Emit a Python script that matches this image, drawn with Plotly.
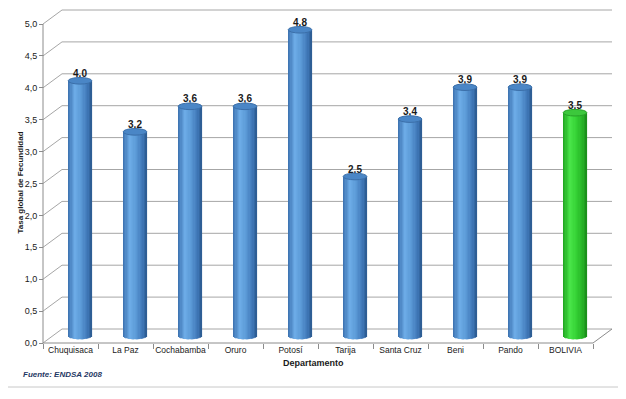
import plotly.graph_objects as go
import math

# ---------------- data ----------------
categories = ["Chuquisaca", "La Paz", "Cochabamba", "Oruro", "Potosí",
              "Tarija", "Santa Cruz", "Beni", "Pando", "BOLIVIA"]
values = [4.0, 3.2, 3.6, 3.6, 4.8, 2.5, 3.4, 3.9, 3.9, 3.5]
y_ticks = [0.0, 0.5, 1.0, 1.5, 2.0, 2.5, 3.0, 3.5, 4.0, 4.5, 5.0]
highlight = "BOLIVIA"

# ---------------- geometry / style ----------------
W, H = 626, 399
OFF = 8                      # page body margin
PX_Y, Y0 = 63.8, 336 - OFF   # px per unit, pixel of value 0 (mid depth)
PX_X, X0 = 55, 80 - OFF      # px per category, pixel of first category (mid depth)
yr = [(Y0 - H) / PX_Y, Y0 / PX_Y]
xr = [-X0 / PX_X, (W - X0) / PX_X]
dx, dy = 9.5 / PX_X, 7 / PX_Y      # half depth offsets
bw = 0.43
cap_h = 3.3 / PX_Y
lbl_gap = 1.5 / PX_Y
n = len(categories)
ymax = max(y_ticks)

blue_stops = [(0.0, (0x3a, 0x6f, 0xae)), (0.3, (0x6c, 0xab, 0xe6)),
              (0.55, (0x5c, 0x9b, 0xd8)), (0.85, (0x3e, 0x76, 0xb6)),
              (1.0, (0x2a, 0x58, 0x8e))]
green_stops = [(0.0, (0x1e, 0xa2, 0x1e)), (0.3, (0x48, 0xe4, 0x48)),
               (0.55, (0x36, 0xd4, 0x36)), (0.85, (0x26, 0xb2, 0x26)),
               (1.0, (0x18, 0x8a, 0x18))]


def grad(stops, t):
    for (t0, c0), (t1, c1) in zip(stops[:-1], stops[1:]):
        if t0 <= t <= t1:
            f = (t - t0) / (t1 - t0)
            c = [round(a + (b - a) * f) for a, b in zip(c0, c1)]
            return "rgb(%d,%d,%d)" % tuple(c)
    return "rgb(%d,%d,%d)" % stops[-1][1]


def px(xp, yp):
    """window pixel -> paper fraction"""
    return (xp - OFF) / W, 1 - (yp - OFF) / H


fig = go.Figure()

# cylinder bodies as gradient strips
N = 18
sw = bw / N
for i in range(N):
    t = (i + 0.5) / N
    tc = 2 * t - 1
    base = -cap_h * math.sqrt(max(0.0, 1 - tc * tc))
    cols = [grad(green_stops if c == highlight else blue_stops, t) for c in categories]
    fig.add_trace(go.Bar(
        x=categories, y=[v - base for v in values], base=[base] * n,
        width=sw * 1.2, offset=-bw / 2 + i * sw,
        marker=dict(color=cols, line=dict(width=0)),
        hoverinfo="skip", showlegend=False, xaxis="x", yaxis="y"))

# value labels
fig.add_trace(go.Scatter(
    x=categories, y=[v + lbl_gap for v in values], mode="text",
    text=[("%.1f" % v).replace(".", ",") for v in values],
    textposition="top center",
    textfont=dict(family="Liberation Sans", size=10, color="#1a1a1a", weight="bold"),
    hoverinfo="skip", showlegend=False, xaxis="x", yaxis="y"))

# invisible trace for front axes
fig.add_trace(go.Scatter(
    x=categories, y=values, mode="markers", marker=dict(opacity=0),
    hoverinfo="skip", showlegend=False, xaxis="x2", yaxis="y2"))

shapes = []
grid_col = "#a6a6a6"
# back wall gridlines + diagonals to front axis
for v in y_ticks:
    shapes.append(dict(type="line", xref="x", yref="y", layer="below",
                       x0=-0.5 + dx, x1=n - 0.5 + dx, y0=v + dy, y1=v + dy,
                       line=dict(color=grid_col, width=1)))
    shapes.append(dict(type="line", xref="x", yref="y", layer="below",
                       x0=-0.5 - dx, x1=-0.5 + dx, y0=v - dy, y1=v + dy,
                       line=dict(color=grid_col, width=1)))
# front axis line
shapes.append(dict(type="line", xref="x", yref="y", layer="below",
                   x0=-0.5 - dx, x1=-0.5 - dx, y0=-dy, y1=ymax - dy,
                   line=dict(color="#8c8c8c", width=1)))
# floor front edge + right diagonal
shapes.append(dict(type="line", xref="x", yref="y", layer="below",
                   x0=-0.5 - dx, x1=n - 0.5 - dx, y0=-dy, y1=-dy,
                   line=dict(color="#8c8c8c", width=1)))
shapes.append(dict(type="line", xref="x", yref="y", layer="below",
                   x0=n - 0.5 - dx, x1=n - 0.5 + dx, y0=-dy, y1=dy,
                   line=dict(color="#8c8c8c", width=1)))
# cylinder caps
for k, (c, v) in enumerate(zip(categories, values)):
    g = c == highlight
    shapes.append(dict(type="circle", xref="x", yref="y", layer="above",
                       x0=k - bw / 2, x1=k + bw / 2, y0=v - cap_h, y1=v + cap_h,
                       fillcolor="#3cc83c" if g else "#4a86c6",
                       line=dict(color="#27a027" if g else "#3b6fa9", width=1)))
# bottom border line
_, yb = px(0, 387)
shapes.append(dict(type="line", xref="paper", yref="paper",
                   x0=0, x1=1, y0=yb, y1=yb,
                   line=dict(color="#c8c8c8", width=1)))

ax_t, ay_t = px(13, 183)
ax_d, ay_d = px(313, 370)
ax_f, ay_f = px(21, 381)
annotations = [
    dict(text="<b>Tasa global de Fecundidad</b>", xref="paper", yref="paper",
         x=ax_t, y=ay_t, textangle=-90, showarrow=False,
         font=dict(family="Liberation Sans", size=8, color="#1a1a1a")),
    dict(text="<b>Departamento</b>", xref="paper", yref="paper",
         x=ax_d, y=ay_d, showarrow=False,
         font=dict(family="Liberation Sans", size=9, color="#1a1a1a")),
    dict(text="<b><i>Fuente: ENDSA 2008</i></b>", xref="paper", yref="paper",
         x=ax_f, y=ay_f, xanchor="left", showarrow=False,
         font=dict(family="Liberation Sans", size=8, color="#1f3864")),
]

fig.update_layout(
    width=W, height=H, margin=dict(l=0, r=0, t=0, b=0),
    paper_bgcolor="white", plot_bgcolor="rgba(0,0,0,0)",
    barmode="overlay", separators=",.", showlegend=False,
    xaxis=dict(type="category", categoryarray=categories, range=xr,
               visible=False, fixedrange=True),
    yaxis=dict(range=yr, visible=False, fixedrange=True),
    xaxis2=dict(type="category", categoryarray=categories, overlaying="x",
                anchor="free", position=1 - (Y0 + 7) / H,
                range=[xr[0] + dx, xr[1] + dx], tickson="boundaries",
                ticks="outside", ticklen=5, tickcolor="#8c8c8c", tickangle=0,
                showgrid=False, showline=False, zeroline=False,
                tickfont=dict(family="Liberation Sans", size=8.5, color="#1a1a1a"),
                automargin=False),
    yaxis2=dict(overlaying="y", anchor="free", position=(X0 - 37) / W,
                side="left", range=[yr[0] + dy, yr[1] + dy],
                tickvals=y_ticks, tickformat=".1f", ticks="outside",
                ticklen=4, tickcolor="#8c8c8c", showgrid=False,
                showline=False, zeroline=False,
                tickfont=dict(family="Liberation Sans", size=9, color="#1a1a1a"),
                automargin=False),
    shapes=shapes, annotations=annotations,
)

fig.write_html("out.html")
